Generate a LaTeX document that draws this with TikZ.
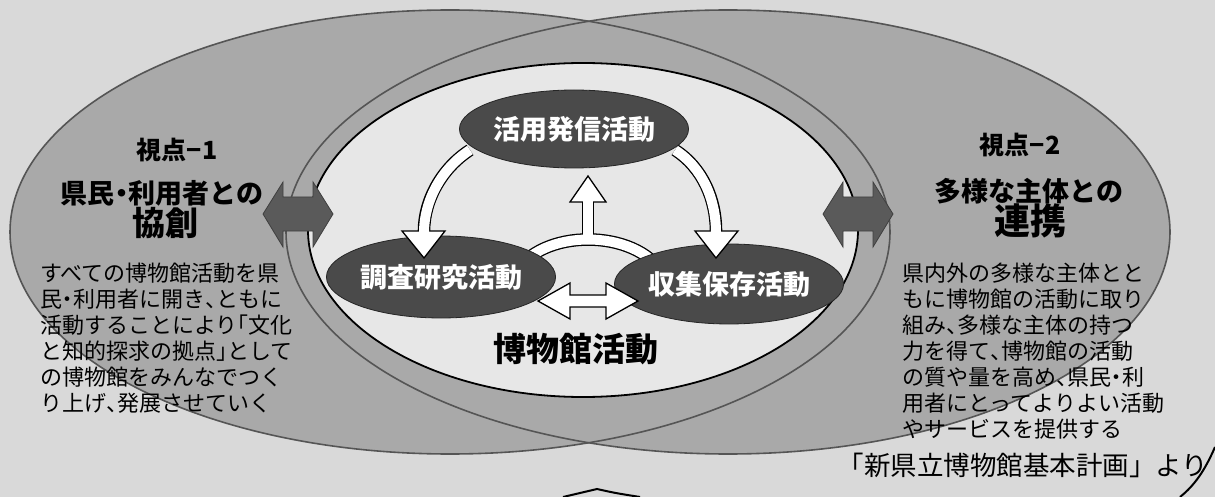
\documentclass[tikz,border=0pt]{standalone}
\usepackage{fontspec}
\setmainfont{Noto Sans CJK JP}
\usetikzlibrary{shapes.geometric}
\definecolor{bg}{HTML}{D9D9D9}
\definecolor{ring}{HTML}{A9A9A9}
\definecolor{edge}{HTML}{555555}
\definecolor{inner}{HTML}{E7E7E7}
\definecolor{darkel}{HTML}{4A4A4A}
\definecolor{darkarr}{HTML}{5A5A5A}
\newcommand\hwl[1]{\makebox[0.5em][l]{#1}}
\newcommand\hwc[1]{\makebox[0.5em][c]{#1}}
\newcommand\hwr[1]{\makebox[0.5em][r]{#1}}
\tikzset{
  bigline/.style={draw=edge, line width=1.6pt},
  actell/.style={ellipse, fill=darkel, draw=black!85, line width=0.8pt, inner sep=0pt,
    text=white, font=\fontsize{27}{27}\selectfont\bfseries},
  blk/.style={line width=12.6pt, draw=black},
  wht/.style={line width=10pt, draw=white},
  headst/.style={fill=white, draw=black, line width=1.3pt, line join=miter},
  dblarr/.style={fill=darkarr, draw=darkarr!70!black, line width=0.8pt},
  ttl/.style={inner sep=0pt, font=\fontsize{27}{27}\selectfont\bfseries},
  para/.style={inner sep=0pt, anchor=north west, align=left, font=\fontsize{22}{26}\selectfont},
}
\begin{document}
\begin{tikzpicture}[x=1pt,y=-1pt]
\useasboundingbox (0,0) rectangle (1215,497);
\fill[bg] (0,0) rectangle (1215,497);
% two large ellipses
\fill[ring] (450,232) ellipse [x radius=440pt, y radius=222pt];
\fill[ring] (728,232) ellipse [x radius=442pt, y radius=222pt];
\draw[bigline] (450,232) ellipse [x radius=440pt, y radius=222pt];
\draw[bigline] (728,232) ellipse [x radius=442pt, y radius=222pt];
% central ellipse
\node[ellipse, fill=inner, draw=black, line width=1.8pt, minimum width=550pt, minimum height=334pt, inner sep=0pt] (hub) at (583,230) {};
% large double arrows
\draw[dblarr] (263,214) -- (283,182) -- (283,197) -- (313,197) -- (313,182) -- (333,214)
  -- (313,247) -- (313,231) -- (283,231) -- (283,247) -- cycle;
\draw[dblarr] (823,214) -- (843,182) -- (843,197) -- (873,197) -- (873,182) -- (893,214)
  -- (873,247) -- (873,231) -- (843,231) -- (843,247) -- cycle;
% bridge with upward arrow
\coordinate (upbase) at (588,202);
\coordinate (uptip) at (588,176);
\draw[blk] (515,274) .. controls (540,228) and (636,228) .. (663,274);
\draw[blk] (588,242) -- (upbase);
\draw[headst] (570,202) -- (606,202) -- (uptip) -- cycle;
\draw[wht] (515,274) .. controls (540,228) and (636,228) .. (663,274);
\draw[wht] (588,242) -- (588,200.5);
% lower ellipses
\node[actell, minimum width=224pt, minimum height=82pt] (res) at (441,277) {調査研究活動};
\node[actell, minimum width=224pt, minimum height=80pt] (col) at (729,284) {収集保存活動};
% horizontal double arrow
\draw[headst] (538,301) -- (570,283) -- (570,295) -- (606,295) -- (606,283) -- (638,301)
  -- (606,319) -- (606,307) -- (570,307) -- (570,319) -- cycle;
% curved arrows
\draw[blk] (470,150) .. controls (442,168) and (424,200) .. (424,231);
\draw[blk] (675,150) .. controls (703,168) and (716,200) .. (716,231);
\draw[headst] (402,231) -- (445,231) -- (424,258) -- cycle;
\draw[headst] (695,231) -- (738,231) -- (716,258) -- cycle;
\draw[wht] (470,150) .. controls (442,168) and (424,200) .. (424,233);
\draw[wht] (675,150) .. controls (703,168) and (716,200) .. (716,233);
% top ellipse
\node[actell, minimum width=225pt, minimum height=78pt] (act) at (574,129) {活用発信活動};
% labels
\node[inner sep=0pt, font=\fontsize{33}{33}\selectfont\bfseries] (hubl) at (576,349) {博物館活動};
\node[ttl, font=\fontsize{25}{25}\selectfont\bfseries] (v1) at (177,150) {視点−1};
\node[ttl] (v1a) at (162,193) {県民\hwc{・}利用者との};
\node[ttl, font=\fontsize{33}{33}\selectfont\bfseries] (v1b) at (165,223) {協創};
\node[ttl, font=\fontsize{25}{25}\selectfont\bfseries] (v2) at (1020,145) {視点−2};
\node[ttl] (v2a) at (1029,191) {多様な主体との};
\node[ttl, font=\fontsize{36}{36}\selectfont\bfseries] (v2b) at (1030,221) {連携};
\node[para] (p1) at (40,263) {すべての博物館活動を県\\
民\hwc{・}利用者に開き\hwl{、}ともに\\
活動することにより\hwr{「}文化\\
と知的探求の拠点\hwl{」}として\\
の博物館をみんなでつく\\
り上げ\hwl{、}発展させていく};
\node[para] (p2) at (902,263) {県内外の多様な主体とと\\
もに博物館の活動に取り\\
組み\hwl{、}多様な主体の持つ\\
力を得て\hwl{、}博物館の活動\\
の質や量を高め\hwl{、}県民\hwc{・}利\\
用者にとってよりよい活動\\
やサービスを提供する};
\node[inner sep=0pt, font=\fontsize{26.5}{26.5}\selectfont] (src) at (1023,465) {「新県立博物館基本計画」より};
% cut-off shapes at the bottom edge
\draw[line width=2pt] (563,497) .. controls (580,493) .. (597,489) .. controls (615,493) .. (640,497);
\draw[line width=2pt] (1215,447) .. controls (1205,470) and (1195,485) .. (1180,497);
\end{tikzpicture}
\end{document}
